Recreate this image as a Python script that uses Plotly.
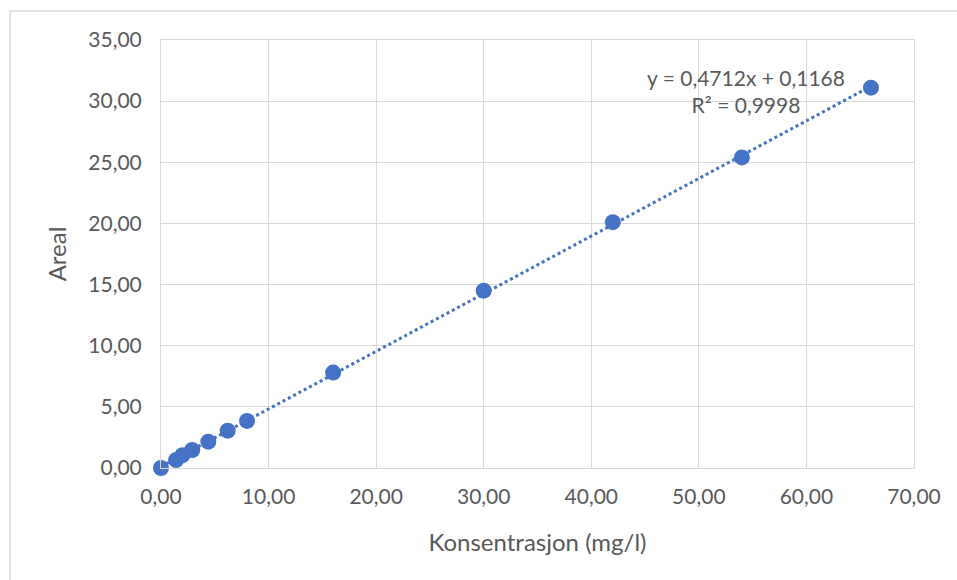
import numpy as np
import plotly.graph_objects as go

konsentrasjon = [0.0, 1.4, 2.0, 2.9, 4.4, 6.2, 8.0, 16.0, 30.0, 42.0, 54.0, 66.0]
areal = [0.0, 0.65, 1.05, 1.47, 2.15, 3.05, 3.85, 7.8, 14.5, 20.1, 25.4, 31.1]
slope, intercept = 0.4712, 0.1168
eq_text = "y = 0,4712x + 0,1168<br>R² = 0,9998"
x_ticks = [0, 10, 20, 30, 40, 50, 60, 70]
y_ticks = [0, 5, 10, 15, 20, 25, 30, 35]

def fmt(v):
    return f"{v:.2f}".replace(".", ",")

blue = "#4472C4"
font_family = "Lato"
tc = "#595959"

trend_x = np.linspace(min(konsentrasjon), max(konsentrasjon), 50)
trend_y = slope * trend_x + intercept

fig = go.Figure()
fig.add_trace(go.Scatter(x=trend_x, y=trend_y, mode="lines",
                         line=dict(color=blue, width=3, dash="dot"),
                         hoverinfo="skip", showlegend=False))
fig.add_trace(go.Scatter(x=konsentrasjon, y=areal, mode="markers",
                         marker=dict(color=blue, size=16), cliponaxis=False,
                         showlegend=False))

L, R, T, B = 161, 43, 40, 112
W, H = 957, 580
pw, ph = W - L - R, H - T - B

fig.update_layout(
    width=W, height=H,
    margin=dict(l=L, r=R, t=T, b=B),
    paper_bgcolor="white", plot_bgcolor="white",
    font=dict(family=font_family, color=tc, size=21),
    xaxis=dict(range=[0, 70], tickvals=x_ticks, ticktext=[fmt(v) for v in x_ticks],
               showgrid=True, gridcolor="#D9D9D9", gridwidth=1,
               showline=True, linecolor="#D9D9D9", linewidth=1, mirror=True,
               zeroline=False, ticks="", ticklen=0, ticklabelstandoff=10,
               title=dict(text="Konsentrasjon (mg/l)", font=dict(size=24, color=tc), standoff=26)),
    yaxis=dict(range=[0, 35], tickvals=y_ticks, ticktext=[fmt(v) for v in y_ticks],
               showgrid=True, gridcolor="#D9D9D9", gridwidth=1,
               showline=True, linecolor="#D9D9D9", linewidth=1, mirror=True,
               zeroline=False, ticks="", ticklen=0, ticklabelstandoff=14,
               title=dict(text="Areal", font=dict(size=24, color=tc), standoff=14)),
    annotations=[dict(x=(746 - L) / pw, y=1 - (91 - T) / ph, xref="paper", yref="paper",
                      text=eq_text, showarrow=False, align="center",
                      font=dict(size=21, color=tc), xanchor="center", yanchor="middle")],
    shapes=[dict(type="rect", xref="paper", yref="paper",
                 x0=(10 - L) / pw, x1=(970 - L) / pw,
                 y0=1 - (600 - T) / ph, y1=1 + (T - 11) / ph,
                 line=dict(color="#D9D9D9", width=1.5), layer="below")],
)

fig.write_html("out.html")
